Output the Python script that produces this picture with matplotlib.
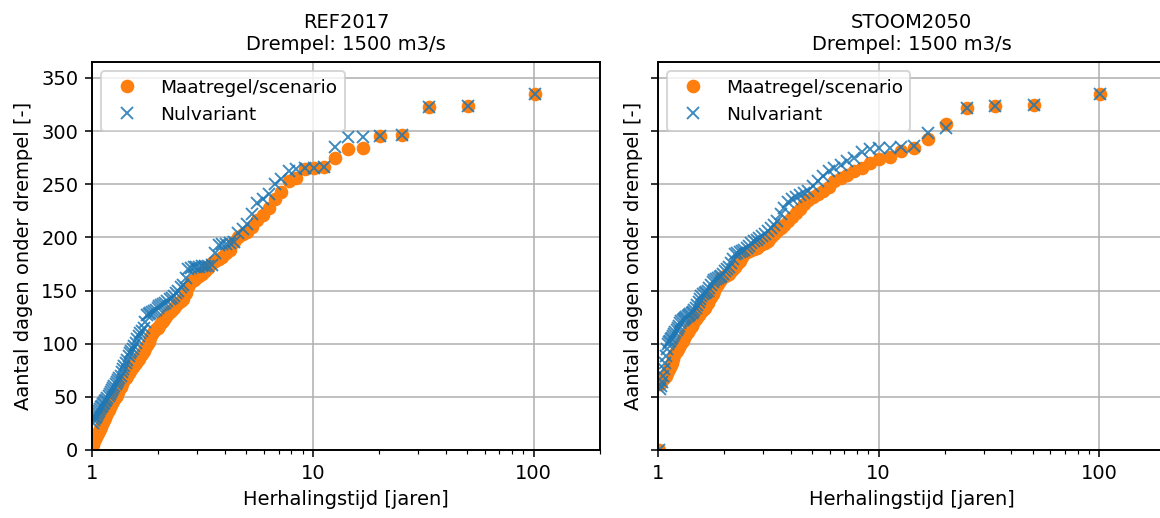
import numpy as np
import matplotlib
matplotlib.use("Agg")
from matplotlib import pyplot as plt
from matplotlib.ticker import ScalarFormatter, NullFormatter

# aantal dagen onder drempel per jaar, gesorteerd van hoog naar laag
ref_nul = [335, 324, 323, 296, 295, 294, 294, 285, 266, 265,
           265, 264, 262, 255, 250, 241, 236, 232, 222, 213,
           208, 204, 196, 195, 194, 194, 193, 185, 174, 173,
           173, 173, 172, 172, 172, 171, 170, 162, 155, 153,
           150, 148, 145, 143, 142, 140, 138, 137, 136, 135,
           134, 132, 131, 130, 129, 128, 127, 120, 115, 112,
           110, 107, 104, 101, 98, 95, 93, 91, 88, 85,
           82, 79, 76, 73, 70, 68, 66, 64, 62, 60,
           58, 56, 55, 53, 51, 49, 47, 46, 44, 43,
           41, 40, 39, 37, 35, 33, 31, 30, 28, 25]
ref_maatr = [335, 324, 323, 296, 295, 284, 283, 275, 266, 265,
             264, 256, 253, 243, 236, 228, 221, 216, 210, 205,
             203, 200, 196, 188, 185, 182, 180, 178, 176, 171,
             168, 166, 164, 162, 160, 158, 153, 148, 142, 140,
             138, 136, 134, 132, 130, 127, 124, 121, 119, 117,
             115, 114, 112, 109, 105, 102, 99, 96, 93, 90,
             88, 86, 84, 82, 80, 78, 76, 74, 72, 70,
             68, 67, 65, 62, 59, 57, 55, 52, 50, 48,
             46, 44, 42, 40, 38, 35, 33, 30, 28, 26,
             24, 22, 20, 18, 16, 14, 12, 10, 8, 5]
stoom_nul = [335, 325, 324, 322, 303, 298, 286, 285, 284, 284,
             283, 280, 275, 272, 268, 265, 262, 258, 253, 248,
             244, 242, 240, 238, 236, 233, 228, 222, 215, 212,
             209, 206, 203, 201, 199, 198, 197, 195, 192, 190,
             188, 187, 186, 185, 184, 180, 176, 172, 170, 168,
             166, 164, 163, 162, 161, 160, 158, 155, 152, 150,
             149, 148, 147, 145, 142, 139, 136, 134, 132, 130,
             129, 128, 127, 126, 125, 124, 123, 122, 121, 119,
             117, 115, 113, 111, 109, 107, 105, 104, 103, 102,
             100, 95, 88, 82, 76, 70, 64, 60, 57, 0]
stoom_maatr = [335, 325, 324, 322, 307, 293, 284, 281, 276, 274,
               270, 265, 262, 259, 256, 253, 247, 244, 241, 238,
               235, 231, 227, 223, 219, 215, 212, 209, 206, 203,
               200, 197, 195, 194, 192, 190, 189, 188, 187, 186,
               185, 182, 178, 175, 172, 170, 168, 166, 165, 164,
               163, 162, 159, 156, 153, 150, 147, 144, 141, 138,
               136, 134, 132, 131, 129, 127, 125, 123, 121, 119,
               117, 115, 113, 111, 109, 107, 105, 103, 101, 99,
               97, 95, 93, 91, 89, 86, 82, 80, 78, 76,
               74, 72, 70, 69, 68, 67, 66, 64, 62, 0]

titels = ["REF2017\nDrempel: 1500 m3/s", "STOOM2050\nDrempel: 1500 m3/s"]
reeksen = [(ref_maatr, ref_nul), (stoom_maatr, stoom_nul)]


def herhalingstijd(waarden):
    # plotpositie (n+1)/rang
    n = len(waarden)
    rang = np.arange(1, n + 1)
    return (n + 1) / rang


DPI = 140
fig = plt.figure(figsize=(1160 / DPI, 518 / DPI), dpi=DPI)
ax1 = fig.add_axes([0.0793, 0.1313, 0.438, 0.749])
ax2 = fig.add_axes([0.567, 0.1313, 0.438, 0.749], sharey=ax1)

for ax, titel, (maatr, nul) in zip([ax1, ax2], titels, reeksen):
    ax.plot(herhalingstijd(maatr), maatr, 'o', color='tab:orange',
            label='Maatregel/scenario')
    ax.plot(herhalingstijd(nul), nul, 'x', color='tab:blue', alpha=0.85,
            label='Nulvariant')
    ax.set_xscale('log')
    ax.set_xlim(1, 200)
    ax.set_ylim(0, 365)
    ax.set_yticks(range(0, 351, 50))
    ax.xaxis.set_major_formatter(ScalarFormatter())
    ax.xaxis.set_minor_formatter(NullFormatter())
    ax.grid(True, which='major')
    ax.set_axisbelow(True)
    ax.set_title(titel, fontsize=10)
    ax.set_xlabel('Herhalingstijd [jaren]')
    ax.set_ylabel('Aantal dagen onder drempel [-]')
    for s in ax.spines.values():
        s.set_linewidth(1.0)
    ax.legend(loc='upper left', fontsize=9.5)

plt.setp(ax2.get_yticklabels(), visible=False)

fig.savefig('out.png', dpi=DPI)
